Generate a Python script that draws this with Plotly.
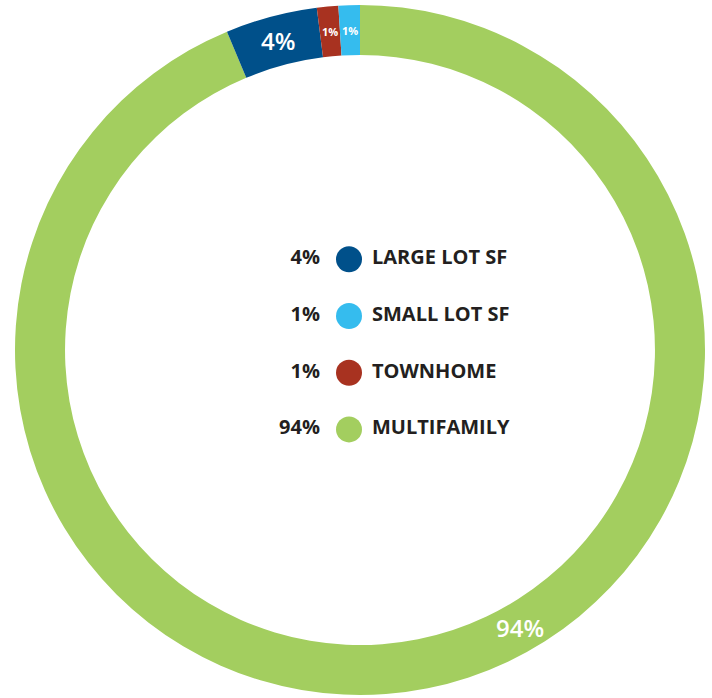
import math
import plotly.graph_objects as go

# Data (clockwise from 12 o'clock)
categories = ["MULTIFAMILY", "LARGE LOT SF", "TOWNHOME", "SMALL LOT SF"]
values = [93.7, 4.3, 1.0, 1.0]
slice_labels = ["94%", "4%", "1%", "1%"]
colors = ["#A3CE5F", "#00508A", "#A83220", "#35BCEE"]

legend_names = ["LARGE LOT SF", "SMALL LOT SF", "TOWNHOME", "MULTIFAMILY"]
legend_pcts = ["4%", "1%", "1%", "94%"]
legend_colors = ["#00508A", "#35BCEE", "#A83220", "#A3CE5F"]
legend_rows = [0, 1, 2, 3]

W, H = 712, 698
cx, cy, R = 360, 350, 345
unit = 56.7
legend_top_px = 259.3

fig = go.Figure()
fig.add_trace(go.Pie(
    labels=categories, values=values, sort=False, direction="clockwise",
    rotation=0, hole=0.855, marker=dict(colors=colors, line=dict(width=0)),
    textinfo="none", showlegend=False, hoverinfo="label+percent",
    domain=dict(x=[0, 1], y=[0, 1]),
))

# centre legend
FONT = "Open Sans"
fig.add_trace(go.Scatter(
    x=[-11] * 4, y=legend_rows, mode="markers",
    marker=dict(size=26, color=legend_colors, line=dict(width=0)),
    showlegend=False, hoverinfo="skip",
))
fig.add_trace(go.Scatter(
    x=[-40] * 4, y=legend_rows, mode="text", text=legend_pcts,
    textposition="middle left",
    textfont=dict(family=FONT, size=20, color="#231F20", weight="bold"),
    showlegend=False, hoverinfo="skip",
))
fig.add_trace(go.Scatter(
    x=[12] * 4, y=legend_rows, mode="text", text=legend_names,
    textposition="middle right",
    textfont=dict(family=FONT, size=20, color="#231F20", weight="bold"),
    showlegend=False, hoverinfo="skip",
))

top = (legend_top_px - (cy - R)) / unit
span = 2 * R / unit

def to_data(px_x, px_y):
    return px_x - cx, (px_y - legend_top_px) / unit

# slice labels at mid-angle of each slice (computed from values), clockwise
total = sum(values)
cum = 0.0
label_r = R - 25
sizes = [24, 24, 11, 11]
for v, lab, s in zip(values, slice_labels, sizes):
    mid = (cum + v / 2) / total * 2 * math.pi
    cum += v
    if lab == "94%":
        # reference places this label in the lower right part of the ring
        mid = math.radians(180 - 30)
    px_x = cx + label_r * math.sin(mid)
    px_y = cy - label_r * math.cos(mid)
    x, y = to_data(px_x, px_y)
    fig.add_annotation(text=lab, x=x, y=y, xref="x", yref="y", showarrow=False,
                       font=dict(family=FONT, size=s, color="white",
                                 weight=700 if s < 20 else 600))

fig.update_layout(
    width=W, height=H,
    margin=dict(l=cx - R, r=W - cx - R, t=cy - R, b=H - cy - R, pad=0),
    paper_bgcolor="white", plot_bgcolor="rgba(0,0,0,0)",
    xaxis=dict(range=[-R, R], visible=False, fixedrange=True),
    yaxis=dict(range=[span - top, -top], visible=False, fixedrange=True),
)

fig.write_html("out.html", config={"displayModeBar": False},
               post_script="document.body.style.margin='0';document.body.style.overflow='hidden';")
